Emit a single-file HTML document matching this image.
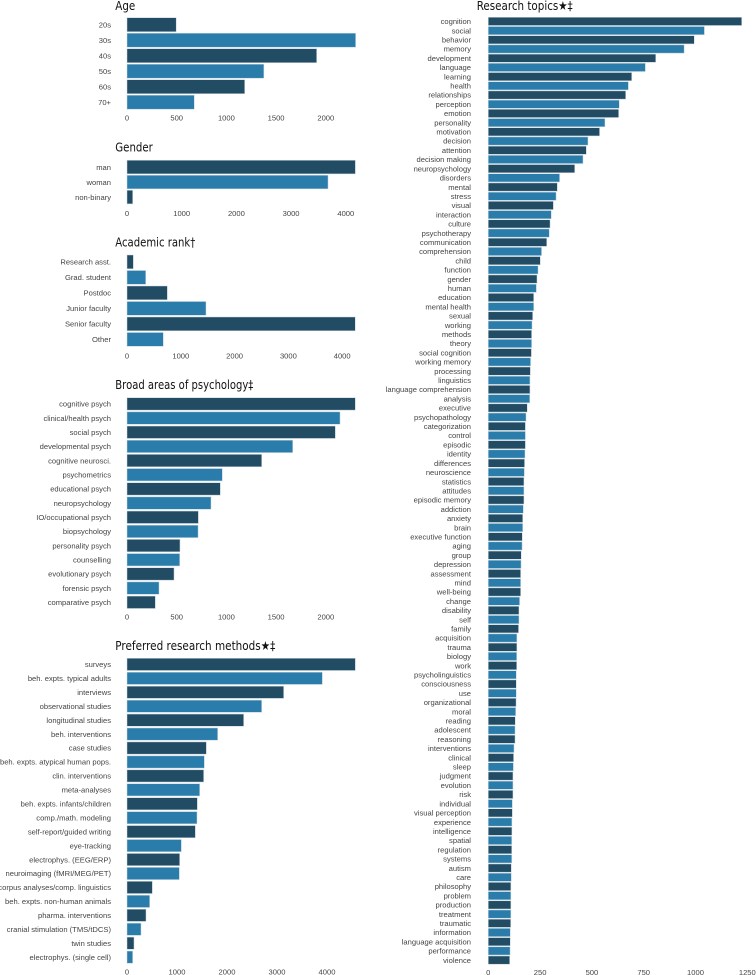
<!DOCTYPE html>
<html><head><meta charset="utf-8">
<style>
html,body{margin:0;padding:0;background:#fff;}
svg{display:block;}
.lbl{font-family:"Liberation Sans",sans-serif;font-size:7.6px;fill:#444;}
.tick{font-family:"Liberation Sans",sans-serif;font-size:7.6px;fill:#444;}
.ttl{font-family:"DejaVu Sans","Liberation Sans",sans-serif;font-size:12.5px;fill:#111;}
</style></head>
<body>
<svg id="chart" width="756" height="975" viewBox="0 0 756 975" xmlns="http://www.w3.org/2000/svg"></svg>
<script>
const ageCats = ["20s","30s","40s","50s","60s","70+"];
const ageVals = [495,2300,1908,1377,1184,677];
const ageTicks = [0,500,1000,1500,2000];

const genderCats = ["man","woman","non-binary"];
const genderVals = [4175,3675,104];
const genderTicks = [0,1000,2000,3000,4000];

const rankCats = ["Research asst.","Grad. student","Postdoc","Junior faculty","Senior faculty","Other"];
const rankVals = [118,348,750,1468,4243,675];
const rankTicks = [0,1000,2000,3000,4000];

const areaCats = ["cognitive psych","clinical/health psych","social psych","developmental psych","cognitive neurosci.","psychometrics","educational psych","neuropsychology","IO/occupational psych","biopsychology","personality psych","counselling","evolutionary psych","forensic psych","comparative psych"];
const areaVals = [2297,2143,2096,1667,1355,959,939,845,718,715,533,530,473,322,285];
const areaTicks = [0,500,1000,1500,2000];

const methodCats = ["surveys","beh. expts. typical adults","interviews","observational studies","longitudinal studies","beh. interventions","case studies","beh. expts. atypical human pops.","clin. interventions","meta-analyses","beh. expts. infants/children","comp./math. modeling","self-report/guided writing","eye-tracking","electrophys. (EEG/ERP)","neuroimaging (fMRI/MEG/PET)","corpus analyses/comp. linguistics","beh. expts. non-human animals","pharma. interventions","cranial stimulation (TMS/tDCS)","twin studies","electrophys. (single cell)"];
const methodVals = [4567,3907,3133,2693,2333,1813,1587,1547,1533,1453,1407,1400,1367,1087,1053,1047,507,453,380,280,140,113];
const methodTicks = [0,1000,2000,3000,4000];

const topicCats = ["cognition","social","behavior","memory","development","language","learning","health","relationships","perception","emotion","personality","motivation","decision","attention","decision making","neuropsychology","disorders","mental","stress","visual","interaction","culture","psychotherapy","communication","comprehension","child","function","gender","human","education","mental health","sexual","working","methods","theory","social cognition","working memory","processing","linguistics","language comprehension","analysis","executive","psychopathology","categorization","control","episodic","identity","differences","neuroscience","statistics","attitudes","episodic memory","addiction","anxiety","brain","executive function","aging","group","depression","assessment","mind","well-being","change","disability","self","family","acquisition","trauma","biology","work","psycholinguistics","consciousness","use","organizational","moral","reading","adolescent","reasoning","interventions","clinical","sleep","judgment","evolution","risk","individual","visual perception","experience","intelligence","spatial","regulation","systems","autism","care","philosophy","problem","production","treatment","traumatic","information","language acquisition","performance","violence"];
const topicVals = [1223,1043,994,945,808,758,692,676,663,632,629,563,537,481,473,457,417,344,333,327,314,304,298,294,282,257,251,240,235,232,219,219,214,211,209,209,208,204,203,201,201,200,188,182,179,179,179,177,175,174,172,172,172,169,166,166,164,163,159,158,156,156,156,151,148,148,146,138,138,137,137,135,135,135,134,132,130,129,129,124,122,121,119,119,119,116,116,114,114,113,113,113,111,111,109,109,109,109,108,106,106,105,103];
const topicTicks = [0,250,500,750,1000,1250];

const NS = "http://www.w3.org/2000/svg";
const svg = document.getElementById("chart");
const DARK = "#224c64", LIGHT = "#2a7dab";

function mk(tag, attrs, parent){
  const e = document.createElementNS(NS, tag);
  for (const k in attrs) e.setAttribute(k, attrs[k]);
  parent.appendChild(e);
  return e;
}

function drawPanel(key, title, titleW, cats, vals, ticks, o){
  const g = mk("g", {}, svg);
  
  
  const xs = v => o.x0 + v * o.scale;
  const ys = i => o.top + i * o.pitch;
  const t = mk("text", {x: o.titleX, y: o.titleY, class: "ttl", textLength: titleW, lengthAdjust: "spacingAndGlyphs"}, g);
  t.textContent = title;
  
  
  cats.forEach((c, i) => {
    const r = mk("rect", {x: xs(0), y: ys(i), width: Math.max(0, xs(vals[i]) - xs(0)), height: o.barH,
      fill: i % 2 === 0 ? DARK : LIGHT, stroke: "#c9d6de", "stroke-width": 0.5}, g);
    
    
    const l = mk("text", {x: o.labelX, y: ys(i) + o.barH / 2 + 2.7, class: "lbl", "text-anchor": "end"}, g);
    l.textContent = c;
    
    
  });
  ticks.forEach(v => {
    const tk = mk("text", {x: xs(v), y: o.tickY + 2.7, class: "tick", "text-anchor": "middle"}, g);
    tk.textContent = String(v);
    
    
  });
}

drawPanel("age", "Age", 20, ageCats, ageVals, ageTicks,
  {x0:127, scale:0.0994, top:17.7, pitch:15.5, barH:14, labelX:111, tickY:118, titleX:115.3, titleY:10});
drawPanel("gender", "Gender", 37.5, genderCats, genderVals, genderTicks,
  {x0:127, scale:0.0547, top:160.3, pitch:15, barH:13.6, labelX:111, tickY:213.3, titleX:115.3, titleY:151.5});
drawPanel("rank", "Academic rank\u2020", 80, rankCats, rankVals, rankTicks,
  {x0:127, scale:0.0538, top:255, pitch:15.5, barH:13.8, labelX:111, tickY:355.7, titleX:115.3, titleY:246.5});
drawPanel("areas", "Broad areas of psychology\u2021", 138, areaCats, areaVals, areaTicks,
  {x0:127, scale:0.0994, top:397.7, pitch:14.17, barH:12.4, labelX:111, tickY:616.7, titleX:115.3, titleY:389});
drawPanel("methods", "Preferred research methods\u2605\u2021", 160, methodCats, methodVals, methodTicks,
  {x0:127, scale:0.05, top:658.3, pitch:13.94, barH:12.2, labelX:111, tickY:972, titleX:115.3, titleY:650});
drawPanel("topics", "Research topics\u2605\u2021", 96, topicCats, topicVals, topicTicks,
  {x0:488.3, scale:0.2072, top:17.3, pitch:9.203, barH:8.2, labelX:471, tickY:972.3, titleX:476.7, titleY:10});
</script>
</body></html>
